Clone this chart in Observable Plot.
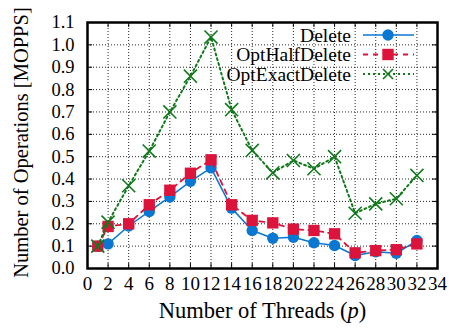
<!DOCTYPE html>
<html>
<head>
<meta charset="utf-8">
<script src="https://cdn.jsdelivr.net/npm/d3@7"></script>
<script src="https://cdn.jsdelivr.net/npm/@observablehq/plot@0.6"></script>
<style>
  html, body { margin: 0; padding: 0; background: #fff; }
  #chart { width: 449px; height: 335px; }
</style>
</head>
<body>
<div id="chart"></div>
<script>
const threads = [1, 2, 4, 6, 8, 10, 12, 14, 16, 18, 20, 22, 24, 26, 28, 30, 32];
const deleteVals = [0.10, 0.11, 0.19, 0.255, 0.32, 0.39, 0.45, 0.27, 0.17, 0.135, 0.14, 0.115, 0.103, 0.058, 0.075, 0.068, 0.125];
const optHalfVals = [0.10, 0.188, 0.20, 0.285, 0.35, 0.426, 0.486, 0.285, 0.215, 0.204, 0.176, 0.17, 0.155, 0.07, 0.08, 0.084, 0.11];
const optExactVals = [0.10, 0.207, 0.37, 0.525, 0.70, 0.86, 1.035, 0.71, 0.528, 0.428, 0.483, 0.446, 0.50, 0.247, 0.289, 0.312, 0.416];
const seriesNames = ["Delete", "OptHalfDelete", "OptExactDelete"];
const xTicks = [0, 2, 4, 6, 8, 10, 12, 14, 16, 18, 20, 22, 24, 26, 28, 30, 32, 34];
const yTicks = [0.0, 0.1, 0.2, 0.3, 0.4, 0.5, 0.6, 0.7, 0.8, 0.9, 1.0, 1.1];
const xLabel = "Number of Threads (p)";
const yLabel = "Number of Operations [MOPPS]";

const colors = {Delete: "#0a78d2", OptHalfDelete: "#dc143c", OptExactDelete: "#0f7a1a"};

const mk = (vals) => threads.map((t, i) => ({t, v: vals[i]}));
const dDel = mk(deleteVals), dHalf = mk(optHalfVals), dExact = mk(optExactVals);

const font = "'Liberation Serif', 'Times New Roman', 'DejaVu Serif', serif";

const chart = Plot.plot({
  width: 449,
  height: 335,
  marginLeft: 87,
  marginRight: 12,
  marginTop: 22,
  marginBottom: 67,
  style: {fontFamily: font, fontSize: "18px", background: "#fff", color: "#000"},
  x: {domain: [0, 34]},
  y: {domain: [0, 1.1]},
  marks: [
    Plot.gridX(xTicks.filter(d => d > 0 && d < 34), {stroke: "#000", strokeOpacity: 0.85, strokeDasharray: "1,2", strokeWidth: 1}),
    Plot.gridY(yTicks.filter(d => d > 0 && d < 1.1), {stroke: "#000", strokeOpacity: 0.85, strokeDasharray: "1,2", strokeWidth: 1}),
    // inner ticks (bottom/top, left/right)
    Plot.ruleX(xTicks, {x: d => d, y1: 0, y2: 0.022, stroke: "#000", strokeWidth: 1}),
    Plot.ruleX(xTicks, {x: d => d, y1: 1.078, y2: 1.1, stroke: "#000", strokeWidth: 1}),
    Plot.ruleY(yTicks, {y: d => d, x1: 0, x2: 0.5, stroke: "#000", strokeWidth: 1}),
    Plot.ruleY(yTicks, {y: d => d, x1: 33.5, x2: 34, stroke: "#000", strokeWidth: 1}),
    Plot.axisX({ticks: xTicks, tickSize: 0, tickPadding: 8, tickFormat: d => String(d), label: null, fontSize: 19}),
    Plot.axisY({ticks: yTicks, tickSize: 0, tickPadding: 13, tickFormat: d3.format(".1f"), label: null, fontSize: 18.5}),
    // Delete
    Plot.line(dDel, {x: "t", y: "v", stroke: colors.Delete, strokeWidth: 1.5}),
    Plot.dot(dDel, {x: "t", y: "v", r: 5.7, fill: colors.Delete, stroke: null}),
    // OptHalfDelete
    Plot.line(dHalf, {x: "t", y: "v", stroke: colors.OptHalfDelete, strokeWidth: 1.8, strokeDasharray: "5,5"}),
    Plot.dot(dHalf, {x: "t", y: "v", r: 6.4, symbol: "square", fill: colors.OptHalfDelete, stroke: null}),
    // OptExactDelete
    Plot.line(dExact, {x: "t", y: "v", stroke: colors.OptExactDelete, strokeWidth: 2, strokeDasharray: "2,3"}),
    Plot.dot(dExact, {x: "t", y: "v", r: 6, symbol: "times", stroke: colors.OptExactDelete, strokeWidth: 1.6}),
    Plot.frame({stroke: "#000", strokeWidth: 2.5}),
    Plot.text([xLabel], {frameAnchor: "bottom", textAnchor: "middle", dy: 49, fontSize: 22.5, text: d => d}),
    Plot.text([yLabel], {frameAnchor: "left", textAnchor: "middle", rotate: -90, dx: -66, dy: -3, fontSize: 20.5, text: d => d})
  ]
});

// italic p in the x label
d3.select(chart).selectAll("text").each(function() {
  const el = d3.select(this);
  if (el.text() === xLabel) {
    el.text(null);
    el.append("tspan").text("Number of Threads (");
    el.append("tspan").attr("font-style", "italic").text("p");
    el.append("tspan").text(")");
  }
});

// legend (inside top-right)
const svg = d3.select(chart);
const lg = svg.append("g").attr("font-family", font).attr("font-size", 19.5);
const rows = [
  {name: seriesNames[0], dash: null, sw: 1.5},
  {name: seriesNames[1], dash: "5,5", sw: 1.8},
  {name: seriesNames[2], dash: "2,3", sw: 2}
];
rows.forEach((r, i) => {
  const cy = 35 + i * 19.5;
  const c = colors[r.name];
  lg.append("text").attr("x", 351).attr("y", cy).attr("dy", "0.35em").attr("text-anchor", "end").attr("fill", "#000").text(r.name);
  const ln = lg.append("line").attr("x1", 363).attr("x2", 414).attr("y1", cy).attr("y2", cy).attr("stroke", c).attr("stroke-width", r.sw);
  if (r.dash) ln.attr("stroke-dasharray", r.dash);
  if (i === 0) lg.append("circle").attr("cx", 388).attr("cy", cy).attr("r", 5.7).attr("fill", c);
  if (i === 1) lg.append("rect").attr("x", 382.3).attr("y", cy - 5.7).attr("width", 11.4).attr("height", 11.4).attr("fill", c);
  if (i === 2) {
    lg.append("path").attr("d", `M${383},${cy-5}L${393},${cy+5}M${383},${cy+5}L${393},${cy-5}`).attr("stroke", c).attr("stroke-width", 1.6);
  }
});

document.getElementById("chart").appendChild(chart);
</script>
</body>
</html>
